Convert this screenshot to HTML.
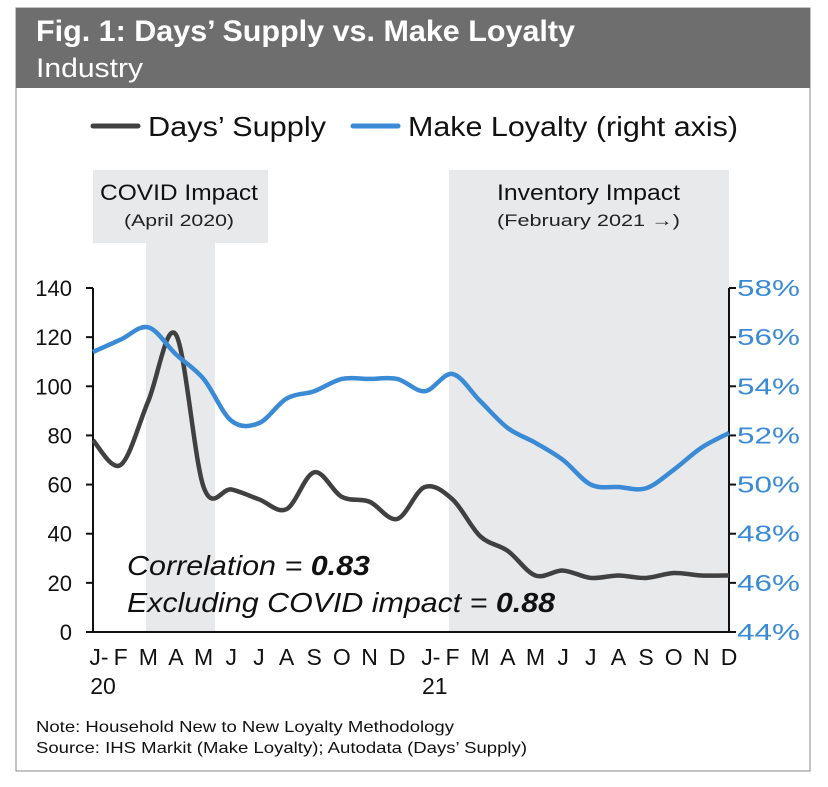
<!DOCTYPE html>
<html><head><meta charset="utf-8"><style>
body{margin:0;background:#fff;font-family:"Liberation Sans",Arial,sans-serif;}
#wrap{position:relative;width:828px;height:782px;}
</style></head><body>
<div id="wrap">
<svg width="828" height="782" font-family="Liberation Sans, Arial, sans-serif">
<rect x="16" y="8" width="794" height="763" fill="#fff" stroke="#888" stroke-width="1"/>
<rect x="16" y="8" width="794" height="80" fill="#6e6e6e"/>
<text x="36" y="41" fill="#fff" font-size="30" font-weight="bold" textLength="539" lengthAdjust="spacingAndGlyphs">Fig. 1: Days’ Supply vs. Make Loyalty</text>
<text x="36" y="77" fill="#fff" font-size="27" textLength="107" lengthAdjust="spacingAndGlyphs">Industry</text>
<g>
<line x1="93" y1="126" x2="138" y2="126" stroke="#404040" stroke-width="5" stroke-linecap="round"/>
<text x="148" y="136" font-size="28" fill="#111" textLength="178" lengthAdjust="spacingAndGlyphs">Days’ Supply</text>
<line x1="353" y1="126" x2="398" y2="126" stroke="#3a8ad6" stroke-width="5" stroke-linecap="round"/>
<text x="408" y="136" font-size="28" fill="#111" textLength="330" lengthAdjust="spacingAndGlyphs">Make Loyalty (right axis)</text>
</g>
<rect x="93" y="170" width="175" height="73" fill="#e8e9eb"/>
<rect x="146" y="243" width="69" height="389" fill="#e8e9eb"/>
<text x="100" y="200" font-size="22" textLength="158" lengthAdjust="spacingAndGlyphs" fill="#111">COVID Impact</text>
<text x="124" y="226" font-size="17" textLength="110" lengthAdjust="spacingAndGlyphs" fill="#222">(April 2020)</text>
<rect x="449" y="170" width="280" height="462" fill="#e8e9eb"/>
<text x="497" y="200" font-size="22" textLength="183" lengthAdjust="spacingAndGlyphs" fill="#111">Inventory Impact</text>
<text x="497" y="226" font-size="17" textLength="183" lengthAdjust="spacingAndGlyphs" fill="#222">(February 2021 →)</text>
<g id="axes"></g>
<g id="series"></g>
<text x="127" y="575" font-size="28" font-style="italic" fill="#111" textLength="243" lengthAdjust="spacingAndGlyphs">Correlation = <tspan font-weight="bold">0.83</tspan></text>
<text x="127" y="612" font-size="28" font-style="italic" fill="#111" textLength="428" lengthAdjust="spacingAndGlyphs">Excluding COVID impact = <tspan font-weight="bold">0.88</tspan></text>
<text x="36" y="732" font-size="16" fill="#111" textLength="418" lengthAdjust="spacingAndGlyphs">Note: Household New to New Loyalty Methodology</text>
<text x="36" y="753" font-size="16" fill="#111" textLength="491" lengthAdjust="spacingAndGlyphs">Source: IHS Markit (Make Loyalty); Autodata (Days’ Supply)</text>
</svg>
</div>
<script>
const months = ["J-","F","M","A","M","J","J","A","S","O","N","D","J-","F","M","A","M","J","J","A","S","O","N","D"];
const daysSupply = [78,68,94,121,59,58,54,50,65,55,53,46,59,54,39,33,23,25,22,23,22,24,23,23];
const makeLoyalty = [55.4,55.9,56.4,55.3,54.3,52.6,52.5,53.5,53.8,54.3,54.3,54.3,53.8,54.5,53.4,52.3,51.7,51.0,50.0,49.9,49.85,50.6,51.5,52.1];
const leftTicks = [0,20,40,60,80,100,120,140];
const rightTicks = [44,46,48,50,52,54,56,58];
const NS="http://www.w3.org/2000/svg";
const X0=93,X1=729,Y0=632,Y1=288;
const xs=i=>X0+i*(X1-X0)/(months.length-1);
const yL=v=>Y0-(v-0)/(140-0)*(Y0-Y1);
const yR=v=>Y0-(v-44)/(58-44)*(Y0-Y1);
function mk(tag,attrs,parent){const e=document.createElementNS(NS,tag);for(const k in attrs)e.setAttribute(k,attrs[k]);parent.appendChild(e);return e;}
const ax=document.getElementById('axes');
let e=mk('line',{x1:X0,y1:Y1,x2:X0,y2:Y0,stroke:'#111','stroke-width':2},ax);


e=mk('line',{x1:X1,y1:Y1,x2:X1,y2:Y0,stroke:'#111','stroke-width':2},ax);


e=mk('line',{x1:X0,y1:Y0,x2:X1,y2:Y0,stroke:'#111','stroke-width':2},ax);


leftTicks.forEach(v=>{const y=yL(v);
 mk('line',{x1:X0-7,y1:y,x2:X0,y2:y,stroke:'#111','stroke-width':2},ax);
 const t=mk('text',{x:72,y:y+8,'font-size':22,'text-anchor':'end',fill:'#111'},ax);t.textContent=v;
 
 });
rightTicks.forEach(v=>{const y=yR(v);
 mk('line',{x1:X1,y1:y,x2:X1+7,y2:y,stroke:'#111','stroke-width':2},ax);
 const t=mk('text',{x:737,y:y+8,'font-size':23,fill:'#3a8ad6',textLength:63,lengthAdjust:'spacingAndGlyphs'},ax);t.textContent=v+'%';
 
 });
months.forEach((m,i)=>{const t=mk('text',{x:xs(i)+(m.length>1?6:0),y:665,'font-size':23,'text-anchor':'middle',fill:'#111'},ax);t.textContent=m;
 
 });
[["20",0],["21",12]].forEach(([s,i])=>{const t=mk('text',{x:xs(i)+10,y:694,'font-size':23,'text-anchor':'middle',fill:'#111'},ax);t.textContent=s;
 
 });
function smooth(pts){let d=`M${pts[0][0]},${pts[0][1]}`;
 for(let i=0;i<pts.length-1;i++){const p0=pts[i-1]||pts[i],p1=pts[i],p2=pts[i+1],p3=pts[i+2]||p2;
  d+=` C${p1[0]+(p2[0]-p0[0])/6},${p1[1]+(p2[1]-p0[1])/6} ${p2[0]-(p3[0]-p1[0])/6},${p2[1]-(p3[1]-p1[1])/6} ${p2[0]},${p2[1]}`;}
 return d;}
const sg=document.getElementById('series');
e=mk('path',{d:smooth(daysSupply.map((v,i)=>[xs(i),yL(v)])),fill:'none',stroke:'#404040','stroke-width':4.5,'stroke-linejoin':'round'},sg);


e=mk('path',{d:smooth(makeLoyalty.map((v,i)=>[xs(i),yR(v)])),fill:'none',stroke:'#3a8ad6','stroke-width':4.5,'stroke-linejoin':'round'},sg);


</script>
</body></html>
